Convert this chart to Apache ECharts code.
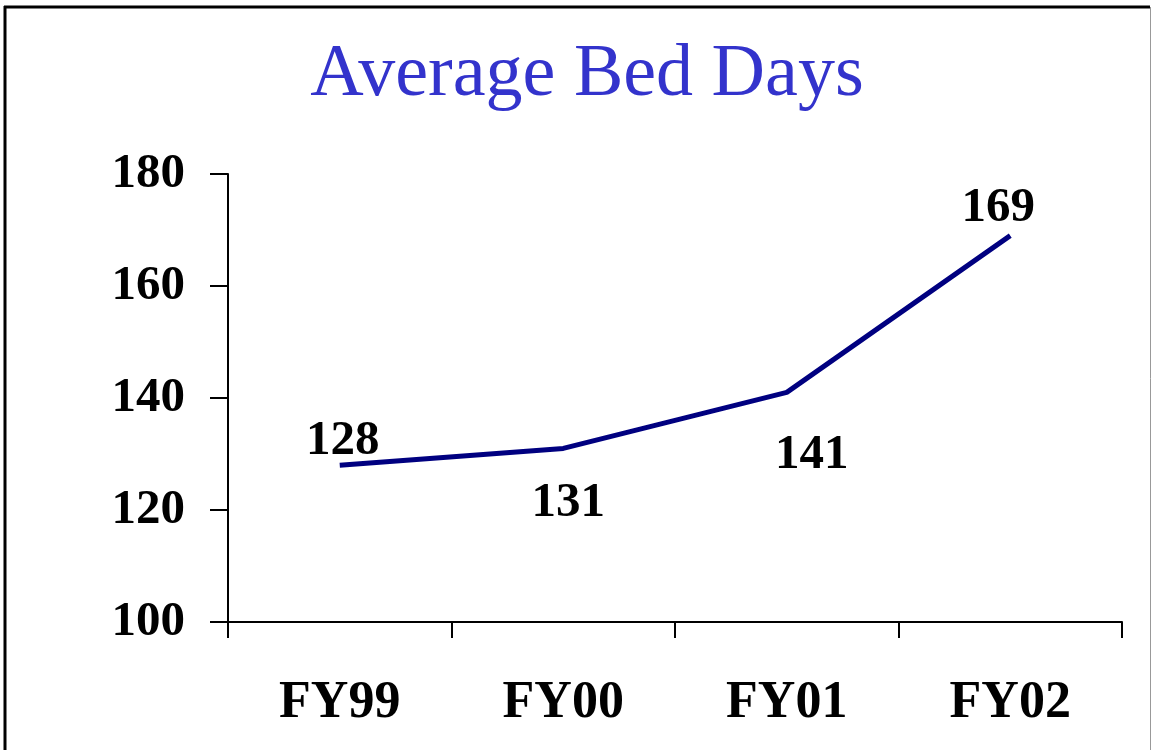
<!DOCTYPE html>
<html>
<head>
<meta charset="utf-8">
<script src="https://cdn.jsdelivr.net/npm/echarts@6/dist/echarts.min.js"></script>
<style>
  html, body { margin: 0; padding: 0; background: #fff; }
  #chart { width: 1151px; height: 750px; }
</style>
</head>
<body>
<div id="chart"></div>
<script>
// data
const years = ['FY99', 'FY00', 'FY01', 'FY02']
const bedDays = [128, 131, 141, 169]
const yTicks = { min: 100, max: 180, interval: 20 }

// where each value label sits relative to its point (dx, dy)
const labelOffsets = [[3, -24], [5, 55], [25, 63], [-12, -27]]

const serif = '"Liberation Serif", "Times New Roman", serif'

const chart = echarts.init(document.getElementById('chart'))

chart.setOption({
  backgroundColor: '#fff',
  animation: false,
  title: {
    text: 'Average Bed Days',
    left: 582,
    top: 34,
    textAlign: 'center',
    textStyle: {
      fontFamily: serif,
      fontSize: 74,
      fontWeight: 'normal',
      color: '#3333CC',
    },
  },
  grid: { left: 228, right: 29, top: 174, bottom: 128 },
  xAxis: {
    type: 'category',
    data: years,
    boundaryGap: true,
    axisLine: { lineStyle: { color: '#000', width: 2 } },
    axisTick: { show: true, length: 16, lineStyle: { color: '#000', width: 2 } },
    axisLabel: {
      margin: 56,
      color: '#000',
      fontFamily: serif,
      fontSize: 52,
      fontWeight: 'bold',
    },
    splitLine: { show: false },
  },
  yAxis: {
    type: 'value',
    min: yTicks.min,
    max: yTicks.max,
    interval: yTicks.interval,
    axisLine: { show: true, lineStyle: { color: '#000', width: 2 } },
    axisTick: { show: true, length: 18, lineStyle: { color: '#000', width: 2 } },
    axisLabel: {
      margin: 43,
      color: '#000',
      fontFamily: serif,
      fontSize: 49,
      fontWeight: 'bold',
    },
    splitLine: { show: false },
  },
  series: [
    {
      type: 'line',
      data: bedDays.map((v, i) => ({
        value: v,
        label: { offset: labelOffsets[i] },
      })),
      symbol: 'circle',
      symbolSize: 2,
      showSymbol: true,
      itemStyle: { color: 'rgba(0,0,0,0)', borderWidth: 0 },
      lineStyle: { color: '#000080', width: 5 },
      label: {
        show: true,
        position: 'inside',
        color: '#000',
        fontFamily: serif,
        fontSize: 49,
        fontWeight: 'bold',
      },
    },
  ],
  graphic: [
    { type: 'line', shape: { x1: 5, y1: 6, x2: 5, y2: 750 }, style: { stroke: '#000', lineWidth: 3 } },
    { type: 'line', shape: { x1: 4, y1: 7, x2: 1150, y2: 7 }, style: { stroke: '#000', lineWidth: 3 } },
    { type: 'line', shape: { x1: 1150.5, y1: 7, x2: 1150.5, y2: 750 }, style: { stroke: '#999', lineWidth: 1 } },
  ],
})

window.addEventListener('resize', () => chart.resize())
</script>
</body>
</html>
